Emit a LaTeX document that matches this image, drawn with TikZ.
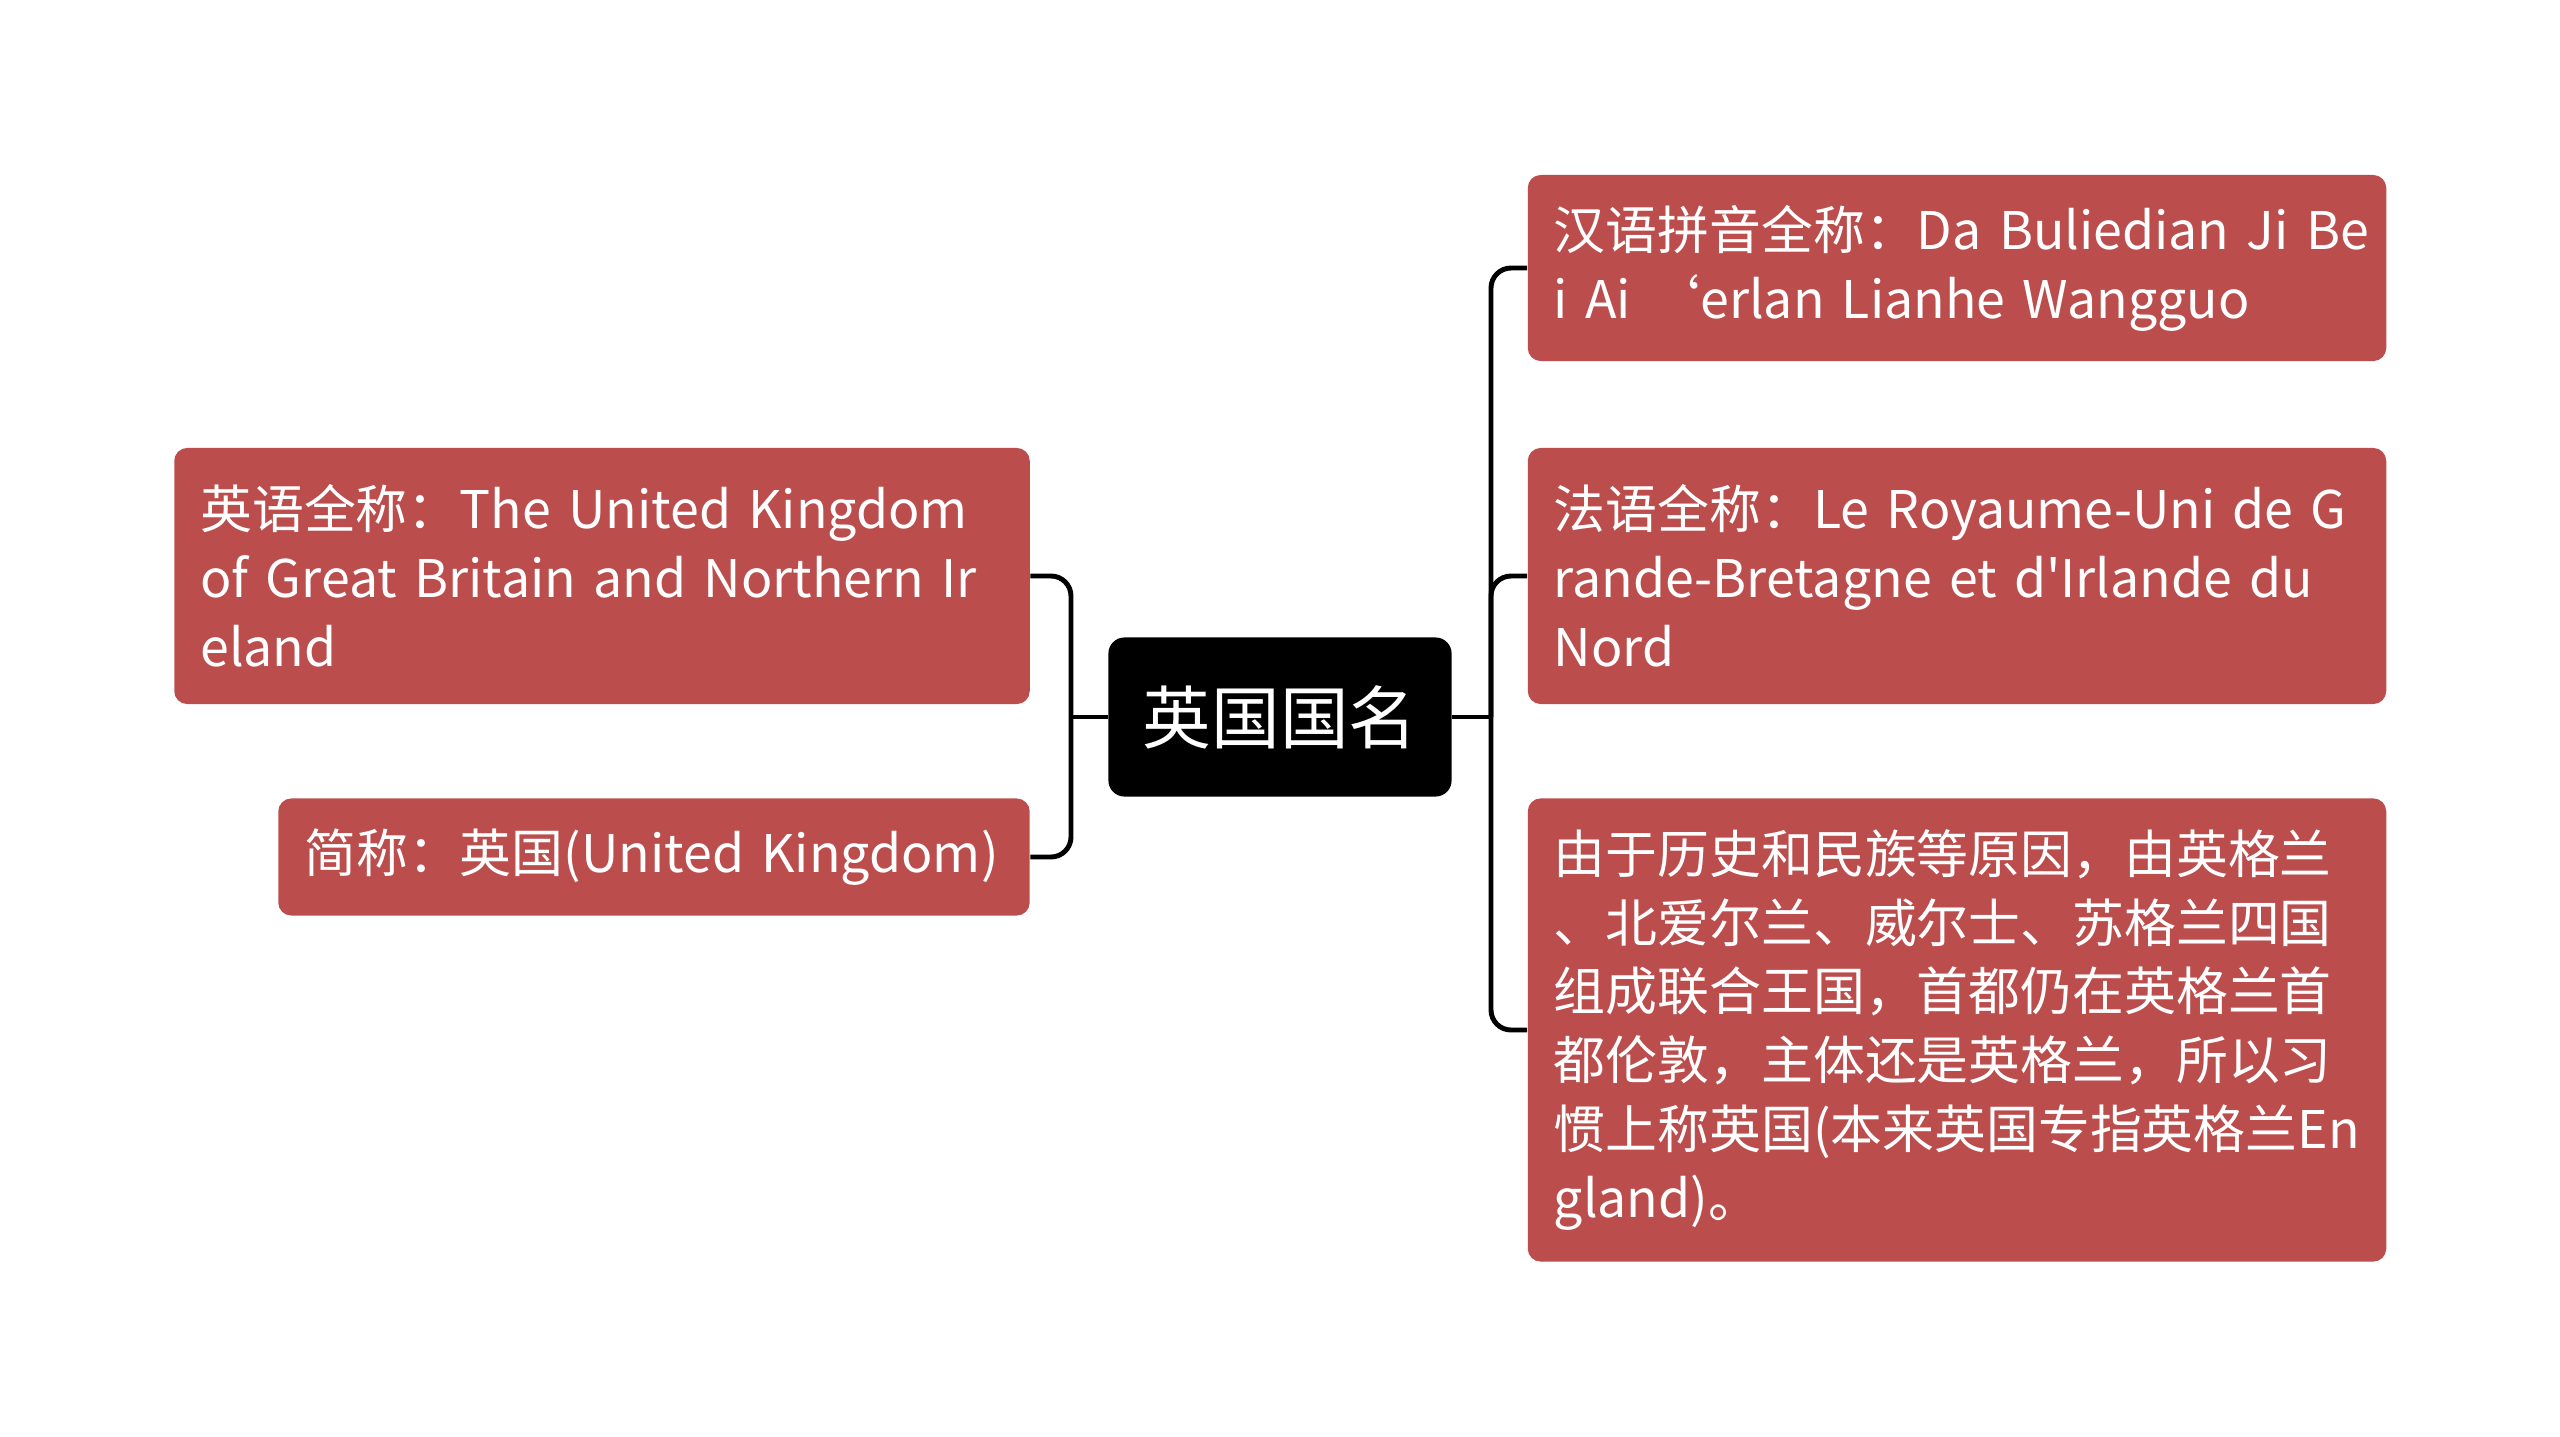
\documentclass[tikz,border=0pt]{standalone}
\usepackage{fontspec}
\setmainfont{Noto Sans CJK SC}[Ligatures=TeXOff]
\usepackage{xcolor}
\definecolor{leafred}{RGB}{188,77,77}

\begin{document}
\begin{tikzpicture}[x=0.01cm, y=-0.01cm,
    leaf/.style={fill=leafred, rounded corners=0.13cm, text=white, align=left, inner xsep=0.26cm, inner ysep=0pt, font=\fontsize{14.75}{19.6}\selectfont},
    rootbox/.style={fill=black, rounded corners=0.16cm, text=white, inner sep=0pt, font=\fontsize{19.5}{24}\selectfont},
    link/.style={line width=1.4pt, rounded corners=0.2cm}]
    \useasboundingbox (0,0) rectangle (2560,1436);

    % Central topic
    \node[rootbox, minimum width=3.43cm, minimum height=1.59cm] (root) at (1280,717) {英国国名};

    % Left topics
    \node[leaf, text width=8.03cm, minimum height=2.56cm] (l1) at (602,576) {\mbox{英语全称：The United Kingdom}\\\mbox{of Great Britain and Northern Ir}\\\mbox{eland}};
    \node[leaf, text width=6.99cm, minimum height=1.17cm] (l2) at (654,857) {\mbox{简称：英国(United Kingdom)}};

    % Right topics
    \node[leaf, text width=8.06cm, minimum height=1.86cm] (r1) at (1957,268) {\mbox{汉语拼音全称：Da Buliedian Ji Be}\\\mbox{i Ai ‘erlan Lianhe Wangguo}};
    \node[leaf, text width=8.06cm, minimum height=2.56cm] (r2) at (1957,576) {\mbox{法语全称：Le Royaume-Uni de G}\\\mbox{rande-Bretagne et d'Irlande du}\\\mbox{Nord}};
    \node[leaf, text width=8.06cm, minimum height=4.63cm] (r3) at (1957,1030) {由于历史和民族等原因，由英格兰\\、北爱尔兰、威尔士、苏格兰四国\\组成联合王国，首都仍在英格兰首\\都伦敦，主体还是英格兰，所以习\\\mbox{惯上称英国(本来英国专指英格兰En}\\gland)。};

    % Fork points
    \coordinate (lfork) at (1071,717);
    \coordinate (rfork) at (1491,717);

    % Left links
    \draw[link] (root.west) -- (lfork);
    \draw[link] (l1.east) -| (lfork);
    \draw[link] (l2.east) -| (lfork);

    % Right links
    \draw[link] (root.east) -- (rfork);
    \draw[link] (r1.west) -| (rfork);
    \draw[link] (r2.west) -| (rfork);
    \draw[link] (r3.west) -| (rfork);

\end{tikzpicture}
\end{document}
